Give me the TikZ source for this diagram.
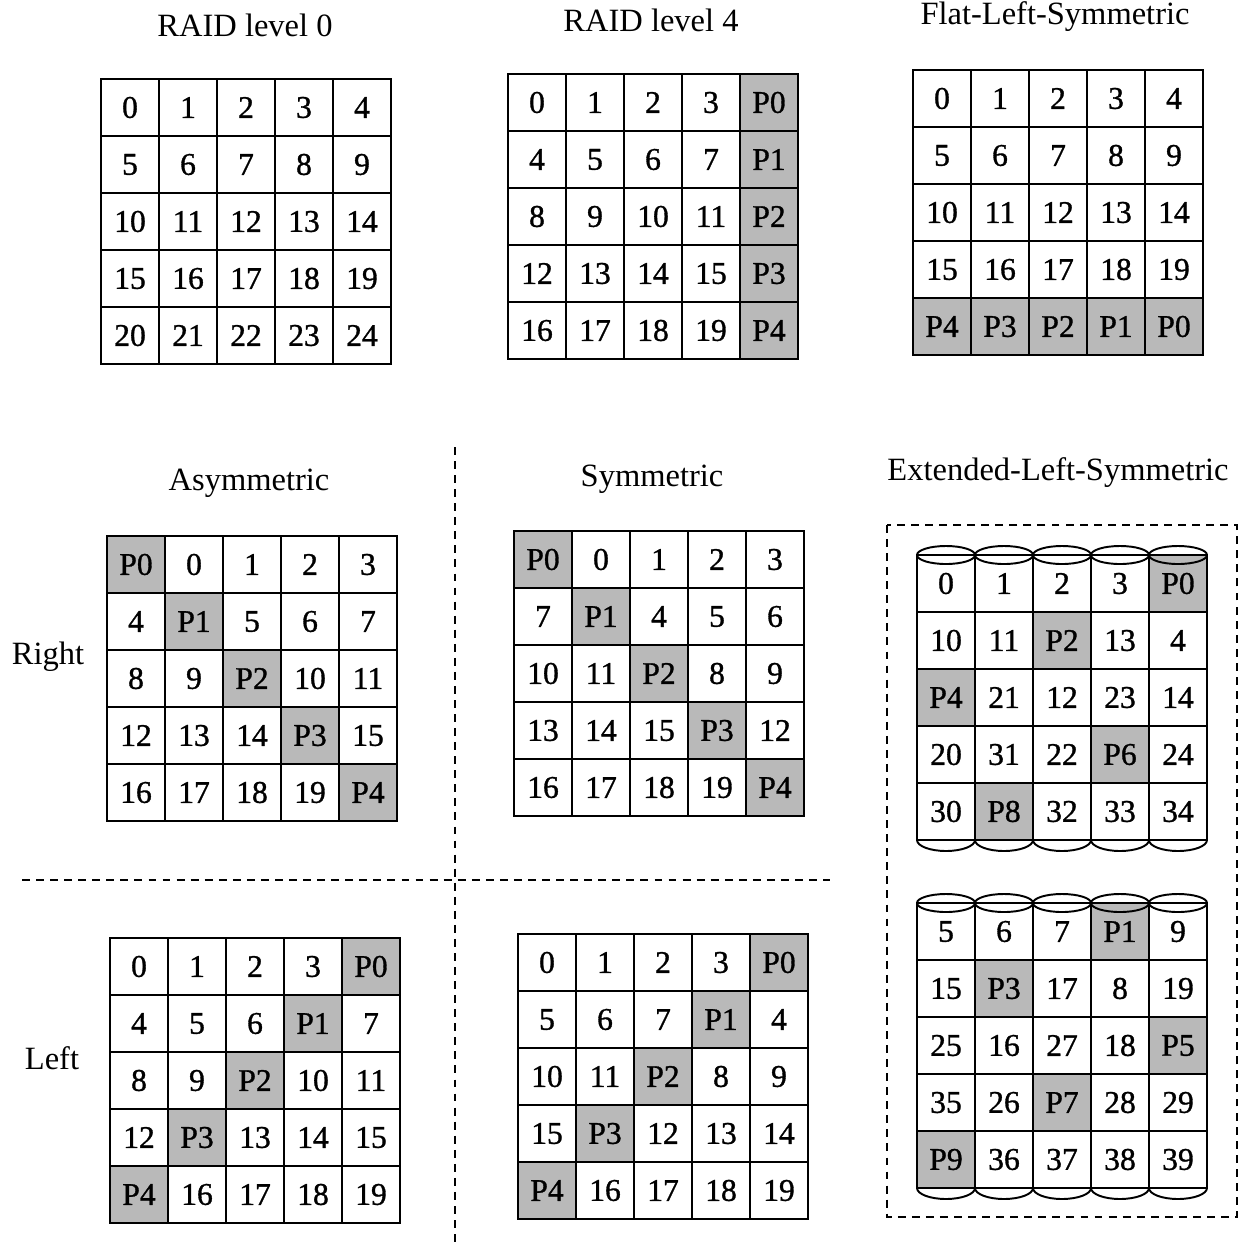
\documentclass[tikz,border=0pt]{standalone}
\usepackage{fontspec}
\setmainfont{Liberation Serif}
\newfontfamily\cellfont{Liberation Serif}[FakeBold=1]
\usepackage{xstring}
\usetikzlibrary{positioning}
\definecolor{paritygray}{RGB}{185,185,185}
\tikzset{
  cell/.style={draw, line width=1.1pt, minimum width=1.16cm, minimum height=1.14cm,
               inner sep=0pt, outer sep=0pt, font=\cellfont\fontsize{18}{21}\selectfont},
  pcell/.style={cell, fill=paritygray},
  title/.style={font=\fontsize{18.5}{22}\selectfont},
  divider/.style={line width=1.1pt, dash pattern=on 4.5pt off 3.5pt},
  diskend/.style={line width=1.1pt}
}
% 5x5 layout: name, top left corner (px), labels row by row
\newcommand{\raidgrid}[4]{%
  \foreach \lbl [count=\i from 0] in {#4} {
    \pgfmathtruncatemacro{\row}{\i/5}
    \pgfmathtruncatemacro{\col}{mod(\i,5)}
    \IfSubStr{\lbl}{P}{\def\cst{pcell}}{\def\cst{cell}}
    \node[\cst] (#1-\row-\col) at (#2+29+58*\col, #3+28.5+57*\row) {\lbl};
  }%
}

\begin{document}
\begin{tikzpicture}[x=0.02cm, y=-0.02cm]
  \useasboundingbox (0,0) rectangle (1245,1248);

  % titles
  \node[title] (t-r0) at (245,25) {RAID level 0};
  \node[title] (t-r4) at (651,20) {RAID level 4};
  \node[title] (t-fls) at (1055,17) {Flat-Left-Symmetric};
  \node[title] (t-asym) at (249,483) {Asymmetric};
  \node[title] (t-sym) at (652,479) {Symmetric};
  \node[title] (t-els) at (1058,473) {Extended-Left-Symmetric};
  \node[title] (t-right) at (48,657) {Right};
  \node[title] (t-left) at (52,1058) {Left};

  % top row
  \raidgrid{r0}{101}{79}{0,1,2,3,4,5,6,7,8,9,10,11,12,13,14,15,16,17,18,19,20,21,22,23,24}
  \raidgrid{r4}{508}{74}{0,1,2,3,P0,4,5,6,7,P1,8,9,10,11,P2,12,13,14,15,P3,16,17,18,19,P4}
  \raidgrid{fls}{913}{70}{0,1,2,3,4,5,6,7,8,9,10,11,12,13,14,15,16,17,18,19,P4,P3,P2,P1,P0}

  % right / left, asymmetric / symmetric
  \raidgrid{ra}{107}{536}{P0,0,1,2,3,4,P1,5,6,7,8,9,P2,10,11,12,13,14,P3,15,16,17,18,19,P4}
  \raidgrid{rs}{514}{531}{P0,0,1,2,3,7,P1,4,5,6,10,11,P2,8,9,13,14,15,P3,12,16,17,18,19,P4}
  \raidgrid{la}{110}{938}{0,1,2,3,P0,4,5,6,P1,7,8,9,P2,10,11,12,P3,13,14,15,P4,16,17,18,19}
  \raidgrid{ls}{518}{934}{0,1,2,3,P0,5,6,7,P1,4,10,11,P2,8,9,15,P3,12,13,14,P4,16,17,18,19}

  \draw[divider] (22,880) -- (830,880);
  \draw[divider] (455,447) -- (455,1248);

  % extended-left-symmetric
  \raidgrid{eu}{917}{555}{0,1,2,3,P0,10,11,P2,13,4,P4,21,12,23,14,20,31,22,P6,24,30,P8,32,33,34}
  \raidgrid{el}{917}{903}{5,6,7,P1,9,15,P3,17,8,19,25,16,27,18,P5,35,26,P7,28,29,P9,36,37,38,39}
  \foreach \g in {eu,el} {
    \foreach \c in {0,...,4} {
      \draw[diskend] (\g-0-\c.north west) arc[start angle=180, end angle=0, x radius=0.58cm, y radius=0.18cm];
      \draw[diskend] (\g-0-\c.north west) arc[start angle=180, end angle=360, x radius=0.58cm, y radius=0.18cm];
      \draw[diskend] (\g-4-\c.south west) arc[start angle=180, end angle=360, x radius=0.58cm, y radius=0.22cm];
    }
  }
  \draw[divider] (887,525) rectangle (1237,1217);
\end{tikzpicture}
\end{document}
